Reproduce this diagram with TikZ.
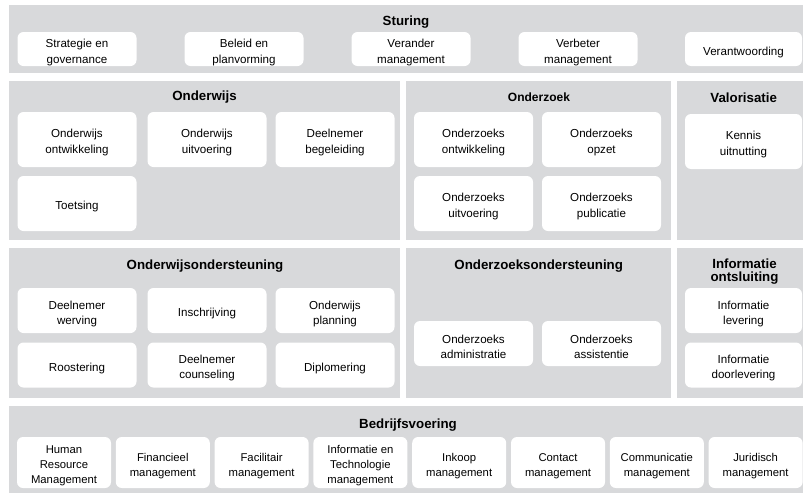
\documentclass[tikz,border=0pt]{standalone}
\usepackage{fontspec}
\setmainfont{Liberation Sans}
\definecolor{panelgray}{RGB}{216,217,219}
% invisible strut that lowers the text block inside a box
\newcommand\topstrut{\rule{0pt}{15pt}}
\begin{document}
\begin{tikzpicture}[x=1pt,y=-1pt,
  panel/.style={fill=panelgray},
  title/.style={font=\fontsize{13.3}{14}\selectfont\bfseries, align=center, inner sep=0pt},
  boxbase/.style={fill=white, rounded corners=6pt, align=center, inner sep=0pt,
    font=\fontsize{11.6}{16}\selectfont},
  sbox/.style={boxbase, minimum width=119pt, minimum height=34pt},
  mbox/.style={boxbase, minimum width=119pt, minimum height=55pt},
  obox/.style={boxbase, minimum width=119pt, minimum height=45pt,
    font=\fontsize{11.6}{15}\selectfont},
  bbox/.style={boxbase, minimum width=94pt, minimum height=51pt,
    font=\fontsize{11.3}{15}\selectfont}]
\useasboundingbox (0,0) rectangle (804,493);

% panels
\fill[panel] (9,5) rectangle (803,73);
\fill[panel] (9,81) rectangle (400,240);
\fill[panel] (406,81) rectangle (671,240);
\fill[panel] (677,81) rectangle (803,240);
\fill[panel] (9,248) rectangle (400,398);
\fill[panel] (406,248) rectangle (671,398);
\fill[panel] (677,248) rectangle (803,398);
\fill[panel] (9,406) rectangle (803,493);

% Sturing
\node[title] (tstur) at (406,22) {Sturing};
\node[sbox] (s1) at (77,49) {\topstrut Strategie en\\governance};
\node[sbox] (s2) at (244,49) {\topstrut Beleid en\\planvorming};
\node[sbox] (s3) at (411,49) {\topstrut Verander\\management};
\node[sbox] (s4) at (578,49) {\topstrut Verbeter\\management};
\node[sbox, minimum width=117pt] (s5) at (743.5,49) {\topstrut Verantwoording};

% Onderwijs
\node[title] (tow) at (204.5,97) {Onderwijs};
\node[mbox] (ow1) at (77,139.5) {\topstrut Onderwijs\\ontwikkeling};
\node[mbox] (ow2) at (207,139.5) {\topstrut Onderwijs\\uitvoering};
\node[mbox] (ow3) at (335,139.5) {\topstrut Deelnemer\\begeleiding};
\node[mbox] (ow4) at (77,203.5) {\topstrut Toetsing};

% Onderzoek
\node[title, font=\fontsize{12}{13}\selectfont\bfseries] (toz) at (539,97.5) {Onderzoek};
\node[mbox] (oz1) at (473.5,139.5) {\topstrut Onderzoeks\\ontwikkeling};
\node[mbox] (oz2) at (601.5,139.5) {\topstrut Onderzoeks\\opzet};
\node[mbox] (oz3) at (473.5,203.5) {\topstrut Onderzoeks\\uitvoering};
\node[mbox] (oz4) at (601.5,203.5) {\topstrut Onderzoeks\\publicatie};

% Valorisatie
\node[title] (tval) at (743.7,98) {Valorisatie};
\node[mbox, minimum width=117pt] (v1) at (743.5,141.5) {\topstrut Kennis\\uitnutting};

% Onderwijsondersteuning
\node[title] (tows) at (205,266) {Onderwijsondersteuning};
\node[obox] (os1) at (77,310.5) {\topstrut Deelnemer\\werving};
\node[obox] (os2) at (207,310.5) {\topstrut Inschrijving};
\node[obox] (os3) at (335,310.5) {\topstrut Onderwijs\\planning};
\node[obox] (os4) at (77,365) {\topstrut Roostering};
\node[obox] (os5) at (207,365) {\topstrut Deelnemer\\counseling};
\node[obox] (os6) at (335,365) {\topstrut Diplomering};

% Onderzoeksondersteuning
\node[title] (tozs) at (538.7,266) {Onderzoeksondersteuning};
\node[obox] (zs1) at (473.5,343.5) {\topstrut Onderzoeks\\administratie};
\node[obox] (zs2) at (601.5,343.5) {\topstrut Onderzoeks\\assistentie};

% Informatie ontsluiting
\node[title, font=\fontsize{13.3}{13.8}\selectfont\bfseries] (tinf) at (744.5,271.5) {Informatie\\ontsluiting};
\node[obox, minimum width=117pt] (i1) at (743.5,310.5) {\topstrut Informatie\\levering};
\node[obox, minimum width=117pt] (i2) at (743.5,365) {\topstrut Informatie\\doorlevering};

% Bedrijfsvoering
\node[title] (tbed) at (408,425) {Bedrijfsvoering};
\node[bbox] (b1) at (64,462.5) {\topstrut Human\\Resource\\Management};
\node[bbox] (b2) at (162.8,462.5) {\topstrut Financieel\\management};
\node[bbox] (b3) at (261.6,462.5) {\topstrut Facilitair\\management};
\node[bbox] (b4) at (360.4,462.5) {\topstrut Informatie en\\Technologie\\management};
\node[bbox] (b5) at (459.2,462.5) {\topstrut Inkoop\\management};
\node[bbox] (b6) at (558,462.5) {\topstrut Contact\\management};
\node[bbox] (b7) at (656.8,462.5) {\topstrut Communicatie\\management};
\node[bbox] (b8) at (755.6,462.5) {\topstrut Juridisch\\management};
\end{tikzpicture}
\end{document}
